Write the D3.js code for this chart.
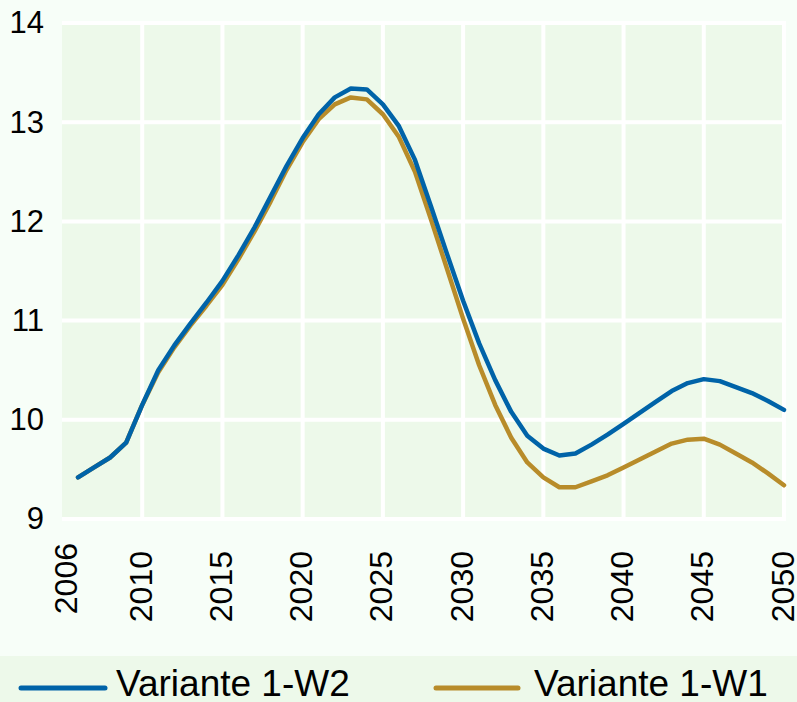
<!DOCTYPE html>
<html>
<head>
<meta charset="utf-8">
<script src="https://cdn.jsdelivr.net/npm/d3@7"></script>
<style>
  html, body { margin: 0; padding: 0; background: #f7fef8; }
  svg { display: block; font-family: "Liberation Sans", Arial, sans-serif; }
</style>
</head>
<body>
<svg id="chart" width="797" height="702"></svg>
<script>
const years = d3.range(2006, 2051);
const seriesNames = ["Variante 1-W2", "Variante 1-W1"];
const valuesW2 = [9.42, 9.52, 9.62, 9.77, 10.15, 10.5, 10.75, 10.97, 11.18, 11.4,
  11.66, 11.94, 12.25, 12.56, 12.84, 13.08, 13.25, 13.34, 13.33, 13.18,
  12.96, 12.62, 12.15, 11.67, 11.2, 10.77, 10.4, 10.08, 9.84, 9.71,
  9.64, 9.66, 9.75, 9.85, 9.96, 10.07, 10.18, 10.29, 10.37, 10.41,
  10.39, 10.33, 10.27, 10.19, 10.1];
const valuesW1 = [9.42, 9.52, 9.62, 9.77, 10.15, 10.48, 10.73, 10.95, 11.15, 11.36,
  11.62, 11.9, 12.2, 12.52, 12.8, 13.03, 13.18, 13.25, 13.23, 13.08,
  12.85, 12.5, 12.02, 11.52, 11.02, 10.55, 10.15, 9.82, 9.57, 9.42,
  9.32, 9.32, 9.38, 9.44, 9.52, 9.6, 9.68, 9.76, 9.8, 9.81,
  9.75, 9.66, 9.57, 9.46, 9.34];
const xTickLabels = [2006, 2010, 2015, 2020, 2025, 2030, 2035, 2040, 2045, 2050];
const xGridYears = [2010, 2015, 2020, 2025, 2030, 2035, 2040, 2045, 2050];
const yTicks = [9, 10, 11, 12, 13, 14];
const colors = ["#0063a8", "#b88c2a"];

const svg = d3.select("#chart");
const W = 797, H = 702;
const plot = { left: 62, right: 784, top: 23, bottom: 519 };

const x = d3.scaleLinear().domain([2005, 2050]).range([plot.left, plot.right]);
const y = d3.scaleLinear().domain([9, 14]).range([plot.bottom, plot.top]);

// background
svg.append("rect").attr("width", W).attr("height", H).attr("fill", "#f7fef8");
svg.append("rect")
  .attr("x", plot.left).attr("y", plot.top)
  .attr("width", plot.right - plot.left).attr("height", plot.bottom - plot.top)
  .attr("fill", "#edf9ea");

// gridlines
svg.append("g").selectAll("line").data(yTicks).join("line")
  .attr("x1", plot.left).attr("x2", plot.right + 2)
  .attr("y1", d => y(d)).attr("y2", d => y(d))
  .attr("stroke", "#ffffff").attr("stroke-width", 4);
svg.append("g").selectAll("line").data(xGridYears).join("line")
  .attr("x1", d => x(d)).attr("x2", d => x(d))
  .attr("y1", plot.top - 2).attr("y2", plot.bottom + 2)
  .attr("stroke", "#ffffff").attr("stroke-width", 4);

// y axis labels
const yAxis = d3.axisLeft(y).tickValues(yTicks).tickSize(0).tickPadding(18).tickFormat(d3.format("d"));
const gy = svg.append("g").attr("transform", `translate(${plot.left},0)`).call(yAxis);
gy.select(".domain").remove();
gy.selectAll("text").attr("font-size", 31).attr("fill", "#000")
  .attr("font-family", "Liberation Sans, Arial, sans-serif");

// x axis labels (rotated)
const xAxis = d3.axisBottom(x).tickValues(xTickLabels).tickSize(0).tickFormat(d3.format("d"));
const gx = svg.append("g").attr("transform", `translate(0,${plot.bottom})`).call(xAxis);
gx.select(".domain").remove();
gx.selectAll(".tick").attr("transform", (d, i) => {
  const dx = i === 0 ? -13 : -2;
  const dy = i === 0 ? -8 : 0;
  return `translate(${x(d) + dx},${dy})`;
});
gx.selectAll("text")
  .attr("font-size", 32).attr("fill", "#000")
  .attr("font-family", "Liberation Sans, Arial, sans-serif")
  .attr("transform", "rotate(-90)")
  .attr("text-anchor", "end")
  .attr("x", -32).attr("y", 0).attr("dy", "0.36em");

// lines
const line = d3.line().x((d, i) => x(years[i])).y(d => y(d));
[valuesW2, valuesW1].slice().reverse().forEach((vals, k) => {
  const idx = 1 - k;
  svg.append("path").datum(vals)
    .attr("d", line)
    .attr("fill", "none")
    .attr("stroke", colors[idx])
    .attr("stroke-width", 4.5)
    .attr("stroke-linejoin", "round")
    .attr("stroke-linecap", "round");
});

// legend band
svg.append("rect").attr("x", 0).attr("y", 656).attr("width", W).attr("height", H - 656)
  .attr("fill", "#edf9ea");
const legendItems = [
  { x1: 21, x2: 105, tx: 116 },
  { x1: 436, x2: 518, tx: 534 }
];
legendItems.forEach((it, i) => {
  svg.append("line").attr("x1", it.x1).attr("x2", it.x2)
    .attr("y1", 688).attr("y2", 688)
    .attr("stroke", colors[i]).attr("stroke-width", 5).attr("stroke-linecap", "round");
  svg.append("text").attr("x", it.tx).attr("y", 696)
    .attr("font-size", 37).attr("fill", "#000")
    .attr("font-family", "Liberation Sans, Arial, sans-serif")
    .text(seriesNames[i]);
});
</script>
</body>
</html>
